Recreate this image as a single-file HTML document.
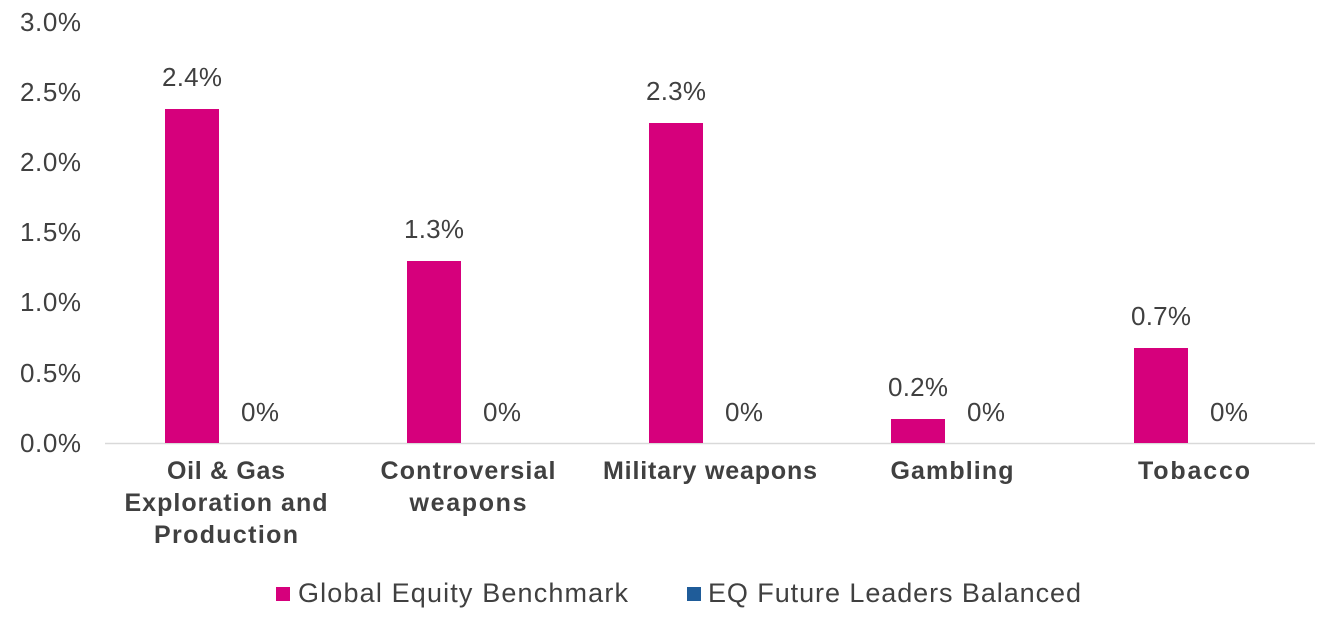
<!DOCTYPE html>
<html><head><meta charset="utf-8"><style>
body{margin:0;background:#fff}
svg text{font-family:"Liberation Sans",sans-serif;fill:#404040}
</style></head><body>
<svg width="1342" height="634" xmlns="http://www.w3.org/2000/svg">
<g font-size="26" text-anchor="end">
<text x="81" y="31" textLength="61">3.0%</text>
<text x="81" y="101" textLength="61">2.5%</text>
<text x="81" y="171" textLength="61">2.0%</text>
<text x="81" y="241" textLength="61">1.5%</text>
<text x="81" y="311" textLength="61">1.0%</text>
<text x="81" y="382" textLength="61">0.5%</text>
<text x="81" y="452" textLength="61">0.0%</text>
</g>
<line x1="105" y1="443.5" x2="1315" y2="443.5" stroke="#d9d9d9" stroke-width="1.5"/>
<g fill="#D6007C">
<rect x="165" y="109" width="54" height="334"/>
<rect x="407" y="261" width="54" height="182"/>
<rect x="649" y="123" width="54" height="320"/>
<rect x="891" y="419" width="54" height="24"/>
<rect x="1134" y="348" width="54" height="95"/>
</g>
<g font-size="26" text-anchor="middle">
<text x="192" y="86" textLength="60">2.4%</text>
<text x="434" y="238" textLength="60">1.3%</text>
<text x="676" y="100" textLength="60">2.3%</text>
<text x="918" y="396" textLength="60">0.2%</text>
<text x="1161" y="325" textLength="60">0.7%</text>
<text x="260" y="421" textLength="38">0%</text>
<text x="502" y="421" textLength="38">0%</text>
<text x="744" y="421" textLength="38">0%</text>
<text x="986" y="421" textLength="38">0%</text>
<text x="1229" y="421" textLength="38">0%</text>
</g>
<g font-size="25" font-weight="bold" text-anchor="middle">
<text x="226" y="479" textLength="118">Oil &amp; Gas</text>
<text x="226" y="511" textLength="203">Exploration and</text>
<text x="226" y="543" textLength="144">Production</text>
<text x="468" y="479" textLength="175">Controversial</text>
<text x="468" y="511" textLength="117">weapons</text>
<text x="710" y="479" textLength="214">Military weapons</text>
<text x="952" y="479" textLength="123">Gambling</text>
<text x="1194" y="479" textLength="112">Tobacco</text>
</g>
<rect x="276" y="587" width="14" height="14" fill="#D6007C"/>
<text x="298" y="602" font-size="27" textLength="330">Global Equity Benchmark</text>
<rect x="687" y="587" width="14" height="14" fill="#1F5C99"/>
<text x="708" y="602" font-size="27" textLength="373">EQ Future Leaders Balanced</text>
</svg>
</body></html>
